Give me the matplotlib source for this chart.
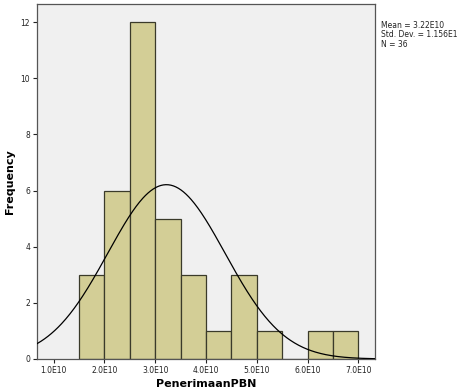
import numpy as np
import matplotlib
matplotlib.use("Agg")
import matplotlib.pyplot as plt

bin_edges = [1.5e10, 2.0e10, 2.5e10, 3.0e10, 3.5e10, 4.0e10, 4.5e10, 5.0e10, 5.5e10, 6.0e10, 6.5e10, 7.0e10]
counts = [3, 6, 12, 5, 3, 1, 3, 1, 0, 1, 1]
mean = 3.22e10
std = 1.156e10
n = 36
xticks = [1e10, 2e10, 3e10, 4e10, 5e10, 6e10, 7e10]
xtick_labels = ["1.0E10", "2.0E10", "3.0E10", "4.0E10", "5.0E10", "6.0E10", "7.0E10"]
yticks = [0, 2, 4, 6, 8, 10, 12]

fig = plt.figure(figsize=(4.6, 3.89), dpi=100)
ax = fig.add_axes([37/460, 1-359/389, (375-37)/460, (359-4)/389])
ax.set_facecolor("#F0F0F0")

lefts = bin_edges[:-1]
widths = np.diff(bin_edges)
ax.bar(lefts, counts, width=widths, align="edge", color="#D3CE96",
       edgecolor="#3a3a2a", linewidth=0.9, zorder=2)

xmin, xmax = 0.67e10, 7.33e10
xs = np.linspace(xmin, xmax, 400)
bw = widths[0]
ys = n * bw / (std * np.sqrt(2*np.pi)) * np.exp(-0.5*((xs-mean)/std)**2)
ax.plot(xs, ys, color="black", linewidth=0.9, zorder=3)

ax.set_xlim(xmin, xmax)
ax.set_ylim(0, 12.65)
ax.set_xticks(xticks)
ax.set_xticklabels(xtick_labels, fontsize=5.5, color="#222222")
ax.set_yticks(yticks)
ax.set_yticklabels([str(v) for v in yticks], fontsize=5.5, color="#222222")
ax.tick_params(axis="both", length=3, width=0.8, colors="#222222", pad=2)
for s in ax.spines.values():
    s.set_color("#555555")
    s.set_linewidth(0.9)

ax.set_ylabel("Frequency", fontsize=8, fontweight="bold", labelpad=4)
fig.text(206/460, 1-387/389, "PenerimaanPBN", ha="center", va="baseline",
         fontsize=8, fontweight="bold")

stats = "Mean = 3.22E10\nStd. Dev. = 1.156E1\nN = 36"
fig.text(381/460, 1-21/389, stats, ha="left", va="top", fontsize=5.5,
         linespacing=1.05, color="#222222")

fig.savefig("out.png", dpi=100)
